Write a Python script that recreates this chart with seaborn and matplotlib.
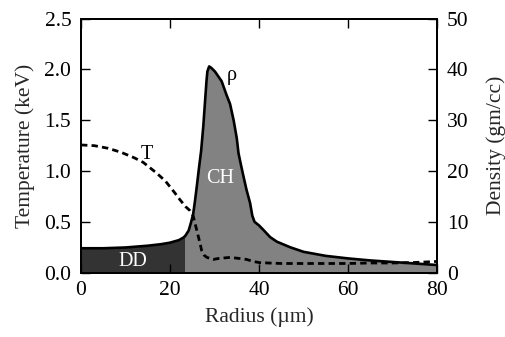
import numpy as np
import matplotlib
matplotlib.use("Agg")
import matplotlib.pyplot as plt
import seaborn as sns

# ---- data ----
radius_rho = [0, 5, 10, 15, 18, 20, 22, 23, 23.4, 23.7, 24.2, 24.7, 25.2, 25.6, 26.0, 26.5,
              27.0, 27.5, 27.9, 28.2, 28.4, 28.8, 29.3, 30.1, 31.6, 32.7, 33.5, 34.3, 35.0,
              35.4, 36.0, 36.5, 37.2, 38.0, 38.5, 39.0, 40.0, 41.0, 42.5, 44.0, 47.0, 50.0,
              55.0, 60.0, 65.0, 70.0, 75.0, 80.0]
density = [4.8, 4.8, 4.95, 5.3, 5.6, 5.9, 6.4, 6.9, 7.2, 7.6, 8.3, 9.8, 11.5, 14.0, 16.8, 20.5,
           24.0, 29.0, 34.0, 37.7, 39.6, 40.6, 40.3, 39.6, 37.7, 35.0, 33.2, 30.0, 26.5,
           23.5, 21.0, 19.0, 16.3, 13.7, 11.2, 10.0, 9.3, 8.4, 7.0, 6.1, 5.0, 4.1,
           3.3, 2.8, 2.4, 2.1, 1.8, 1.5]

radius_T = [0, 3, 6, 9, 12, 14, 17, 19, 21, 22.2, 23.5, 24.5, 25.2, 25.6, 26.0, 26.4, 26.8,
            27.1, 27.7, 28.3, 29.7, 31.0, 33.5, 35.5, 37.2, 38.7, 40.2, 45, 50, 55, 60, 65,
            70, 75, 80]
temperature = [1.257, 1.25, 1.225, 1.185, 1.13, 1.085, 0.98, 0.9, 0.79, 0.72, 0.65, 0.61, 0.56,
               0.49, 0.42, 0.35, 0.28, 0.22, 0.17, 0.15, 0.13, 0.14, 0.15, 0.14, 0.13, 0.11,
               0.098, 0.09, 0.09, 0.09, 0.09, 0.095, 0.095, 0.1, 0.11]

dd_boundary = 23.4
x_ticks = [0, 20, 40, 60, 80]
t_ticks = [0.0, 0.5, 1.0, 1.5, 2.0, 2.5]
d_ticks = [0, 10, 20, 30, 40, 50]

# ---- style ----
sns.set_theme(style="ticks")
plt.rcParams['font.family'] = ['Liberation Serif', 'DejaVu Serif']
FS = 15.5
FA = 14.5

fig = plt.figure(figsize=(5.05, 3.37), dpi=100)
ax1 = fig.add_axes([0.1604, 0.191, 0.8653 - 0.1604, 0.9445 - 0.191])
ax2 = ax1.twinx()
ax1.set_zorder(ax2.get_zorder() + 1)
ax1.patch.set_visible(False)

r = np.array(radius_rho)
d = np.array(density)
m1 = r <= dd_boundary
m2 = r >= dd_boundary
ax2.fill_between(r[m1], 0, d[m1], color="#333333", lw=0)
ax2.fill_between(r[m2], 0, d[m2], color="#828282", lw=0)
sns.lineplot(x=radius_rho, y=density, ax=ax2, color="black", lw=1.9, estimator=None, sort=False)

sns.lineplot(x=radius_T, y=temperature, ax=ax1, color="black", lw=2.0, estimator=None,
             sort=False, dashes=False)
ax1.lines[-1].set_dashes((2.3, 1.5))

ax1.set_xlim(0, 80)
ax1.set_ylim(0, 2.5)
ax2.set_ylim(0, 50)
ax1.set_xticks(x_ticks)
ax1.set_yticks(t_ticks)
ax1.set_yticklabels([f"{t:.1f}" for t in t_ticks])
ax2.set_yticks(d_ticks)

for a in (ax1, ax2):
    for s in a.spines.values():
        s.set_linewidth(1.4)
        s.set_color("black")

ax1.tick_params(axis="both", which="both", direction="in", length=6.5, width=1.0,
                labelsize=FS, colors="black", pad=7, top=True, right=False)
ax1.tick_params(axis="x", pad=6)
ax2.tick_params(axis="y", direction="in", length=6.5, width=1.0, labelsize=FS,
                colors="black", pad=7)

ax1.xaxis.get_major_ticks()[1].tick1line.set_color("white")

ax1.set_xlabel("Radius (µm)", fontsize=FS, labelpad=5)
ax1.set_ylabel("Temperature (keV)", fontsize=FS, labelpad=7)
ax2.set_ylabel("Density (gm/cc)", fontsize=FS, labelpad=13)

ax1.text(14.8, 1.16, "T", fontsize=FA, ha="center", va="center", color="black")
ax2.text(34.0, 38.9, "ρ", fontsize=FA, ha="center", va="center", color="black")
ax2.text(31.2, 18.6, "CH", fontsize=FA, ha="center", va="center", color="white")
ax2.text(11.7, 2.2, "DD", fontsize=FA, ha="center", va="center", color="white")

fig.savefig("out.png", dpi=100)
